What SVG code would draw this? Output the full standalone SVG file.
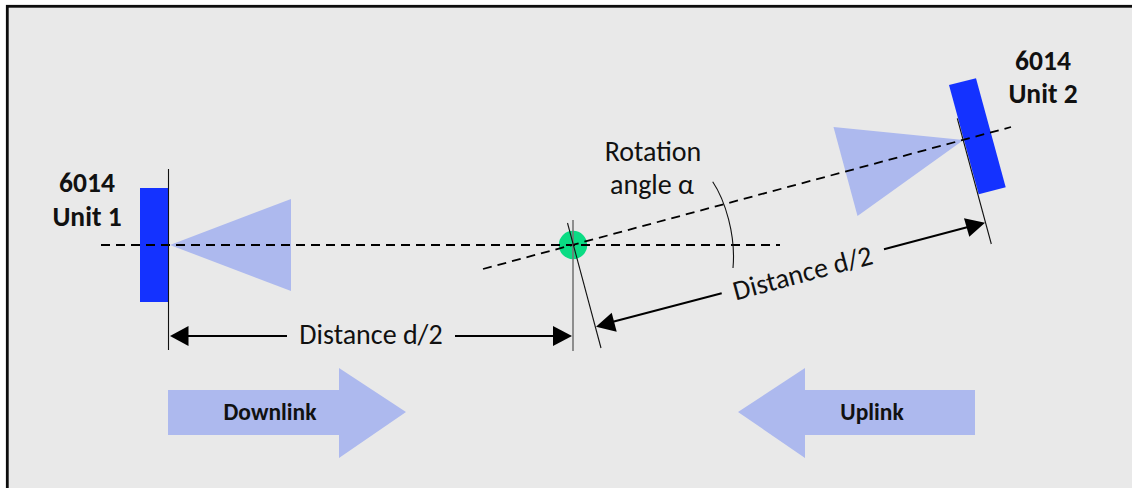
<svg xmlns="http://www.w3.org/2000/svg" width="1132" height="488" viewBox="0 0 1132 488">
<style>
text{font-family:Carlito,Lato,"Open Sans",sans-serif;fill:#111;text-anchor:middle}
.b{font-weight:700;font-size:27.500px}
.l{font-size:28px}
.s{font-weight:700;font-size:23.500px}
.unit{fill:#1432ff}
.pale{fill:#adb9ee}
.thin{stroke:#111;stroke-width:1.1;fill:none}
.dash{stroke:#000;stroke-width:1.800;stroke-dasharray:9 6;fill:none}
.dim{stroke:#000;stroke-width:2;fill:none}
.hd{fill:#000}
</style>
<rect x="7.3" y="6.3" width="1130" height="490" fill="#e9e9e9" stroke="#0d0d0d" stroke-width="2.8"/>
<g id="beam1"><polygon class="pale" points="170,245 291,199 291,291"/></g>
<g id="beam2"><polygon class="pale" points="963.5,140 833.5,127 857.5,216"/></g>
<g id="unit1"><rect class="unit" x="140" y="188" width="28.5" height="114"/><text class="b" x="87" y="192">6014</text><text class="b" x="87" y="226">Unit 1</text></g>
<g id="unit2"><polygon class="unit" points="949,85 976,78.3 1005.7,187.3 978.7,194.3"/><text class="b" x="1043" y="70">6014</text><text class="b" x="1043" y="103">Unit 2</text></g>
<g id="pivot"><circle cx="573" cy="245" r="14.2" fill="#0bdc84"/></g>
<g id="connectors">
<path class="dash" d="M101 245H780"/>
<path class="dash" d="M483 269L1011 127"/>
<path class="thin" d="M168.5 169V350"/>
<path d="M573 220V351" stroke="#777" stroke-width="1.6" fill="none"/>
<path class="thin" d="M567.5 223L601 348"/>
<path class="thin" d="M957.3 118.3L991.3 244"/>
<path class="thin" d="M712.7 181.7C725 200 736 235 733 268"/>
<path class="dim" d="M186 336H287M455 336H555"/>
<polygon class="hd" points="170,336 188.500,326 188.500,346"/>
<polygon class="hd" points="572,336 553,326 553,346"/>
<path class="dim" d="M612 322L721.700 293.300M884 249.300L968 227"/>
<polygon class="hd" points="596,326.700 611.700,312.700 616.700,331.700"/>
<polygon class="hd" points="985,222.700 964,218.300 969.300,236.700"/>
</g>
<g id="downlink"><polygon class="pale" points="168,390 339,390 339,368 406,412 339,458 339,435 168,435"/><text class="s" x="270" y="420">Downlink</text></g>
<g id="uplink"><polygon class="pale" points="738,412 805,368 805,390 975,390 975,435 805,435 805,458"/><text class="s" x="872" y="420">Uplink</text></g>
<g id="labels">
<text class="l" x="371" y="344">Distance d/2</text>
<text class="l" transform="translate(805 282) rotate(-15)">Distance d/2</text>
<text class="l" x="653" y="161">Rotation</text>
<text class="l" x="652" y="194">angle α</text>
</g>
</svg>
